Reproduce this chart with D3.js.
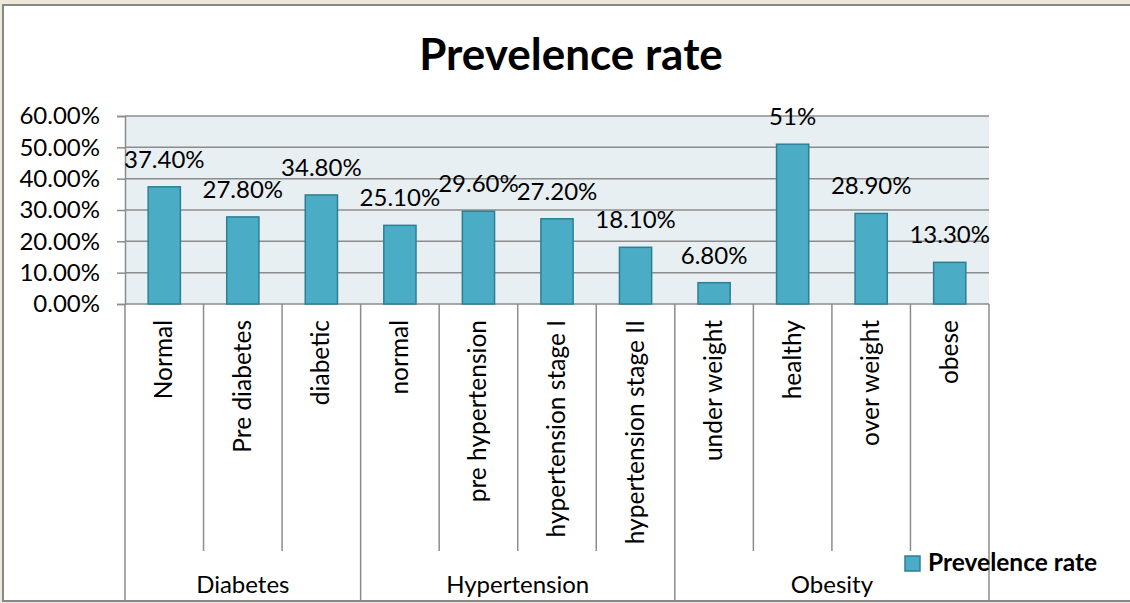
<!DOCTYPE html>
<html>
<head>
<meta charset="utf-8">
<script src="https://cdn.jsdelivr.net/npm/d3@7"></script>
<style>
  body { margin: 0; background: #ece9d8; }
  svg { display: block; }
  text { font-family: Lato, "Open Sans", sans-serif; fill: #000; }
</style>
</head>
<body>
<svg width="1130" height="603"></svg>
<script>
const categories = ["Normal", "Pre diabetes", "diabetic", "normal", "pre hypertension",
  "hypertension stage I", "hypertension stage II", "under weight", "healthy", "over weight", "obese"];
const values = [0.374, 0.278, 0.348, 0.251, 0.296, 0.272, 0.181, 0.068, 0.51, 0.289, 0.133];
const valueLabels = ["37.40%", "27.80%", "34.80%", "25.10%", "29.60%", "27.20%", "18.10%",
  "6.80%", "51%", "28.90%", "13.30%"];
const groups = ["Diabetes", "Hypertension", "Obesity"];
const groupSizes = [3, 4, 4];
const yTicks = [0, 0.1, 0.2, 0.3, 0.4, 0.5, 0.6];
const seriesName = "Prevelence rate";

const svg = d3.select("svg");
const width = +svg.attr("width");
const height = +svg.attr("height");

// chart frame (white panel with grey border, like the excel screenshot)
svg.append("rect")
  .attr("x", 2).attr("y", 4)
  .attr("width", width - 2).attr("height", height - 5)
  .attr("fill", "#fff");
svg.append("path")
  .attr("d", `M${width},5 H3 V${height - 2} H${width}`)
  .attr("fill", "none")
  .attr("stroke", "#888").attr("stroke-width", 2);

const margin = {top: 116, left: 125, right: 141, bottom: 299};
const innerWidth = width - margin.left - margin.right;
const innerHeight = height - margin.top - margin.bottom;

const x = d3.scaleBand()
  .domain(categories)
  .range([margin.left, margin.left + innerWidth])
  .paddingInner(0).paddingOuter(0);

const y = d3.scaleLinear()
  .domain([0, 0.6])
  .range([margin.top + innerHeight, margin.top]);

svg.append("text")
  .attr("x", 571).attr("y", 70)
  .attr("text-anchor", "middle")
  .attr("font-size", 44).attr("font-weight", "bold")
  .text(seriesName);

// plot background
svg.append("rect")
  .attr("x", margin.left).attr("y", margin.top)
  .attr("width", innerWidth).attr("height", innerHeight)
  .attr("fill", "#e8eff3");

// y axis with gridlines
const yAxis = svg.append("g")
  .attr("transform", `translate(${margin.left},0)`)
  .call(d3.axisLeft(y).tickValues(yTicks).tickFormat(d3.format(".2%"))
    .tickSize(8).tickPadding(17));
yAxis.select(".domain").attr("stroke", "#8c8c8c").attr("stroke-width", 1.5);
yAxis.selectAll(".tick line").attr("stroke", "#8c8c8c").attr("stroke-width", 1.5);
yAxis.selectAll(".tick text").attr("font-size", 24).attr("fill", "#000")
  .attr("font-family", "Lato, sans-serif");

svg.append("g").selectAll("line").data(yTicks).join("line")
  .attr("x1", margin.left).attr("x2", margin.left + innerWidth)
  .attr("y1", d => y(d)).attr("y2", d => y(d))
  .attr("stroke", "#8c8c8c").attr("stroke-width", 1.5);

// bars
const barW = x.bandwidth() * 0.41;
svg.append("g").selectAll("rect").data(categories).join("rect")
  .attr("x", (d, i) => x(d) + (x.bandwidth() - barW) / 2)
  .attr("y", (d, i) => y(values[i]))
  .attr("width", barW)
  .attr("height", (d, i) => y(0) - y(values[i]))
  .attr("fill", "#4bacc6")
  .attr("stroke", "#2e7f94").attr("stroke-width", 1.5);

// value labels
svg.append("g").selectAll("text").data(categories).join("text")
  .attr("x", d => x(d) + x.bandwidth() / 2)
  .attr("y", (d, i) => y(values[i]) - 19)
  .attr("text-anchor", "middle")
  .attr("font-size", 24)
  .text((d, i) => valueLabels[i]);

// category axis: separators and rotated labels
const catBottom = 551;
const boundaries = categories.map(d => x(d)).concat([x.range()[1]]);
let groupEdges = [0];
groupSizes.forEach((n, i) => groupEdges.push(groupEdges[i] + n));
const groupX = groupEdges.map(k => boundaries[k]);

svg.append("g").selectAll("line").data(boundaries).join("line")
  .attr("x1", d => d).attr("x2", d => d)
  .attr("y1", y(0)).attr("y2", (d, i) => groupEdges.includes(i) ? height - 2 : catBottom)
  .attr("stroke", "#8c8c8c").attr("stroke-width", 1.5);

svg.append("g").selectAll("text").data(categories).join("text")
  .attr("transform", d => `translate(${x(d) + x.bandwidth() / 2 + 8},320) rotate(-90)`)
  .attr("text-anchor", "end")
  .attr("font-size", 24.5)
  .text(d => d);

svg.append("g").selectAll("text").data(groups).join("text")
  .attr("x", (d, i) => (groupX[i] + groupX[i + 1]) / 2)
  .attr("y", 593)
  .attr("text-anchor", "middle")
  .attr("font-size", 24)
  .text(d => d);

// legend
const legend = svg.append("g").attr("transform", "translate(905,556)");
legend.append("rect")
  .attr("width", 15).attr("height", 15)
  .attr("fill", "#4bacc6").attr("stroke", "#2e7f94").attr("stroke-width", 1.5);
legend.append("text")
  .attr("x", 23).attr("y", 15)
  .attr("font-size", 24.5).attr("font-weight", "bold")
  .text(seriesName);
</script>
</body>
</html>
